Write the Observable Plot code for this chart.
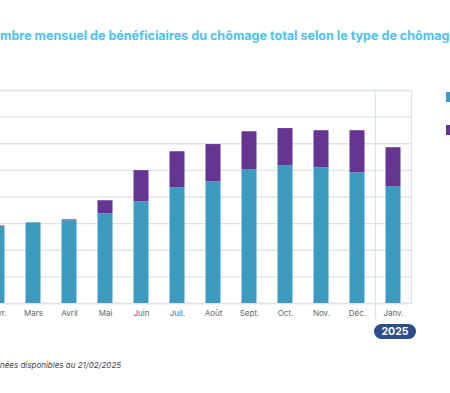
<!DOCTYPE html>
<html>
<head>
<meta charset="utf-8">
<script src="https://cdn.jsdelivr.net/npm/d3@7"></script>
<script src="https://cdn.jsdelivr.net/npm/@observablehq/plot@0.6"></script>
<style>
  html, body { margin: 0; padding: 0; background: #fff; }
  body { width: 450px; height: 393px; overflow: hidden; position: relative; font-family: Inter, "Noto Sans", sans-serif; }
  #title { position: absolute; top: 28px; white-space: nowrap; font-weight: 700; font-size: 12.55px; color: #4cc3f2; }
  #chart { position: absolute; top: 80px; }
  #caption { position: absolute; top: 360px; white-space: nowrap; font-style: italic; font-size: 8px; color: #444; }
  .pill { position: absolute; height: 15px; border-radius: 8px; background: #2c4d8c; color: #fff; font-weight: 700; font-size: 10.5px; line-height: 15px; text-align: center; }
  .sw { position: absolute; width: 10px; height: 10px; }
</style>
</head>
<body>
<div id="title"></div>
<div id="chart"></div>
<div id="caption"></div>
<script>
// ---- data ----
const titleText = "Nombre mensuel de bénéficiaires du chômage total selon le type de chômage";
const captionText = "Données disponibles au 21/02/2025";
const months = ["Févr.", "Mars", "Avril", "Mai", "Juin", "Juil.", "Août", "Sept.", "Oct.", "Nov.", "Déc.", "Janv."];
const seriesNames = ["Type 1", "Type 2"];
const type1 = [2880, 3030, 3110, 3370, 3820, 4350, 4570, 5030, 5180, 5100, 4910, 4390];
const type2 = [30, 0, 30, 490, 1170, 1350, 1400, 1420, 1390, 1390, 1580, 1460];
const yTicks = [0, 1000, 2000, 3000, 4000, 5000, 6000, 7000, 8000];
const yearLabel = "2025";
const yearStart = "Janv.";
const colors = ["#3c9bc1", "#653495"];

// ---- layout helpers ----
const ctx = document.createElement("canvas").getContext("2d");
function measure(str, font) { ctx.font = font; return ctx.measureText(str).width; }

const title = document.getElementById("title");
title.textContent = titleText;
title.style.left = (-measure("No", "700 12.55px Inter")) + "px";

const caption = document.getElementById("caption");
caption.textContent = captionText;
caption.style.left = (-measure("Don", "italic 8px Inter")) + "px";

const rows = [];
months.forEach((m, i) => {
  rows.push({month: m, type: seriesNames[0], value: type1[i]});
  rows.push({month: m, type: seriesNames[1], value: type2[i]});
});

const step = 36, bw = 15;
const pInner = 1 - bw / step, pOuter = pInner / 2;
const svgLeft = -21.5;
const grid = "#dce5e9";

const chart = Plot.plot({
  width: months.length * step,
  height: 253,
  marginLeft: 0,
  marginRight: 0,
  marginTop: 10,
  marginBottom: 30,
  style: {fontFamily: "Inter, sans-serif", background: "transparent", overflow: "visible"},
  x: {domain: months, paddingInner: pInner, paddingOuter: pOuter, round: false, label: null},
  y: {domain: [0, 8000], axis: null},
  color: {domain: seriesNames, range: colors},
  marks: [
    Plot.ruleY(yTicks, {stroke: grid, strokeWidth: 1.3}),
    Plot.frame({stroke: grid, strokeWidth: 1.3}),
    Plot.ruleX([yearStart], {dx: -step / 2, stroke: grid, strokeWidth: 1.3, insetBottom: -16}),
    Plot.barY(rows, {x: "month", y: "value", fill: "type"}),
    Plot.axisX({tickSize: 0, tickPadding: 7, fontSize: 8, fill: "#666", label: null})
  ]
});
const holder = document.getElementById("chart");
holder.style.left = svgLeft + "px";
holder.appendChild(chart);

// year pill under first month of 2025
const xs = chart.scale("x");
const cx = svgLeft + xs.apply(yearStart) + xs.bandwidth / 2 + 2.5;
const pill = document.createElement("div");
pill.className = "pill";
pill.textContent = yearLabel;
const pw = 42;
pill.style.width = pw + "px";
pill.style.left = (cx - pw / 2) + "px";
pill.style.top = "324px";
document.body.appendChild(pill);

// legend swatches (labels lie outside the visible frame)
seriesNames.forEach((s, i) => {
  const d = document.createElement("div");
  d.className = "sw";
  d.style.background = colors[i];
  d.style.left = "446px";
  d.style.top = (92 + i * 32.5) + "px";
  d.title = s;
  document.body.appendChild(d);
});
</script>
</body>
</html>
